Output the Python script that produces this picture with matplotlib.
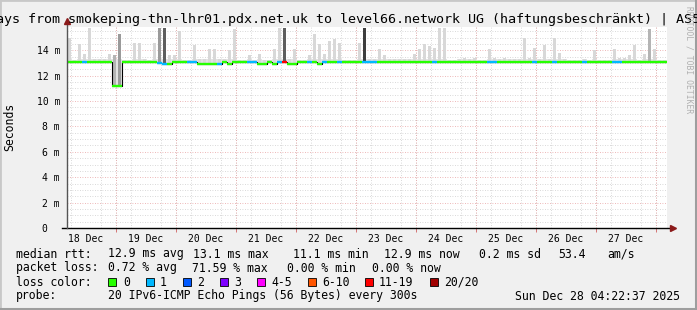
import matplotlib
matplotlib.use("Agg")
import matplotlib.pyplot as plt
import matplotlib.dates as mdates
from matplotlib.patches import Rectangle
from matplotlib.ticker import MultipleLocator
import numpy as np
import pandas as pd

W, H = 697, 310
MONO = "DejaVu Sans Mono"

end_time = pd.Timestamp("2025-12-28 04:22:37")
span_days = 10
bin_hours = 2

# median rtt per 2 hour bin (ms)
median_ms = [
    13.05, 13.05, 13.05, 13.05, 13.05, 13.05, 13.05, 13.05, 13.05, 11.15,
    11.15, 13.05, 13.05, 13.05, 13.05, 13.05, 13.05, 13.05, 13.0, 12.9,
    12.9, 13.05, 13.05, 13.05, 13.05, 13.05, 12.9, 12.9, 12.9, 12.9,
    12.9, 13.05, 12.9, 13.05, 13.05, 13.05, 13.05, 13.05, 12.9, 12.9,
    13.05, 12.9, 13.05, 13.05, 12.9, 12.9, 13.05, 13.05, 13.05, 13.05,
    12.9, 13.05, 13.05, 13.05, 13.05, 13.05, 13.05, 13.05, 13.05, 13.05,
    13.05, 13.05, 13.05, 13.05, 13.05, 13.05, 13.05, 13.05, 13.05, 13.05,
    13.05, 13.05, 13.05, 13.05, 13.05, 13.05, 13.05, 13.05, 13.05, 13.05,
    13.05, 13.05, 13.05, 13.05, 13.05, 13.05, 13.05, 13.05, 13.05, 13.05,
    13.05, 13.05, 13.05, 13.05, 13.05, 13.05, 13.05, 13.05, 13.05, 13.05,
    13.05, 13.05, 13.05, 13.05, 13.05, 13.05, 13.05, 13.05, 13.05, 13.05,
    13.05, 13.05, 13.05, 13.05, 13.05, 13.05, 13.05, 13.05, 13.05, 13.05,
]

# highest ping per bin (ms), top of the smoke
smoke_top_ms = [
    15.0, 13.2, 14.5, 13.7, 15.75, 13.3, 13.3, 13.3, 13.7, 13.6,
    15.3, 13.2, 13.2, 14.55, 14.6, 13.3, 13.2, 14.6, 15.75, 15.75,
    13.6, 13.6, 15.5, 13.2, 13.2, 14.4, 13.3, 13.3, 14.1, 14.1,
    13.3, 13.3, 14.0, 15.7, 13.2, 13.2, 13.6, 13.2, 13.7, 13.2,
    13.2, 14.1, 15.75, 15.75, 13.3, 14.1, 13.2, 13.2, 13.6, 15.3,
    14.5, 13.7, 14.7, 14.85, 14.6, 13.2, 13.2, 13.2, 14.6, 15.75,
    13.3, 13.3, 14.1, 13.6, 13.3, 13.3, 13.3, 13.3, 13.3, 13.7,
    14.1, 14.5, 14.3, 14.2, 15.75, 15.75, 13.2, 13.2, 13.3, 13.35,
    13.3, 13.35, 13.2, 13.2, 14.1, 13.35, 13.3, 13.35, 13.3, 13.3,
    13.3, 15.0, 13.4, 14.2, 13.3, 14.4, 13.3, 15.0, 13.8, 13.3,
    13.25, 13.2, 13.2, 13.3, 13.2, 14.0, 13.2, 13.2, 13.2, 14.1,
    13.4, 13.35, 13.6, 14.4, 13.2, 13.7, 15.7, 14.1, 13.2, 13.2,
]

# smoke density (0 = light ... 4 = darkest)
smoke_shade = [
    0, 0, 0, 0, 0, 0, 0, 0, 0, 1,
    2, 0, 0, 0, 0, 0, 0, 0, 2, 3,
    0, 0, 0, 0, 0, 0, 0, 0, 0, 0,
    0, 0, 0, 0, 0, 0, 0, 0, 0, 0,
    0, 0, 0, 3, 0, 0, 0, 0, 0, 0,
    0, 0, 0, 0, 0, 0, 0, 0, 0, 4,
    0, 0, 0, 0, 0, 0, 0, 0, 0, 0,
    0, 0, 0, 0, 0, 0, 0, 0, 0, 0,
    0, 0, 0, 0, 0, 0, 0, 0, 0, 0,
    0, 0, 0, 0, 0, 0, 0, 0, 0, 0,
    0, 0, 0, 0, 0, 0, 0, 0, 0, 0,
    0, 0, 0, 0, 0, 0, 1, 0, 0, 0,
]

# lost pings (of 20) per bin
loss_count = [
    0, 0, 0, 1, 0, 0, 0, 0, 0, 0,
    0, 0, 0, 0, 0, 0, 0, 0, 1, 1,
    0, 0, 0, 0, 1, 1, 0, 0, 0, 0,
    1, 0, 0, 0, 0, 0, 1, 1, 0, 0,
    0, 0, 1, 14, 0, 0, 0, 0, 1, 0,
    0, 1, 0, 0, 1, 0, 0, 0, 0, 1,
    1, 1, 0, 0, 0, 0, 0, 0, 0, 0,
    0, 0, 0, 1, 0, 0, 0, 0, 0, 0,
    0, 0, 0, 0, 1, 1, 0, 0, 0, 0,
    0, 0, 0, 1, 0, 0, 0, 1, 0, 0,
    0, 0, 0, 1, 0, 0, 0, 0, 0, 1,
    1, 0, 0, 0, 0, 0, 0, 0, 0, 0,
]

day_labels = ["18 Dec", "19 Dec", "20 Dec", "21 Dec", "22 Dec",
              "23 Dec", "24 Dec", "25 Dec", "26 Dec", "27 Dec"]
ytick_vals = [0, 2, 4, 6, 8, 10, 12, 14]
ytick_labels = ["0  ", "2 m", "4 m", "6 m", "8 m", "10 m", "12 m", "14 m"]

loss_names = ["0", "1", "2", "3", "4-5", "6-10", "11-19", "20/20"]
loss_upper = [0, 1, 2, 3, 5, 10, 19, 20]
loss_colors = ["#26ff00", "#00b8ff", "#0059ff", "#7e00ff",
               "#ff00ff", "#ff5500", "#ff0000", "#a10000"]
shade_colors = ["#d8d8d8", "#b4b4b4", "#9a9a9a", "#5e5e5e", "#3e3e3e"]

rtt_texts = ["median rtt:", "12.9 ms avg", "13.1 ms max", "11.1 ms min",
             "12.9 ms now", "0.2 ms sd", "53.4", "am/s"]
loss_texts = ["packet loss:", "0.72 % avg", "71.59 % max", "0.00 % min", "0.00 % now"]
probe_text = "20 IPv6-ICMP Echo Pings (56 Bytes) every 300s"
stamp_text = "Sun Dec 28 04:22:37 2025"
title_text = "ays from smokeping-thn-lhr01.pdx.net.uk to level66.network UG (haftungsbeschränkt) | AS5"


def fx(px):
    return px / W


def fy(py):
    return 1 - py / H


start_time = end_time - pd.Timedelta(days=span_days)
times = start_time + pd.to_timedelta(np.arange(len(median_ms)) * bin_hours, unit="h")
t = mdates.date2num(times.to_pydatetime())
bw = bin_hours / 24.0
med = np.array(median_ms)
top = np.array(smoke_top_ms)

fig = plt.figure(figsize=(W / 100, H / 100), dpi=100, facecolor="#f0f0f0")
ymax = 15.8
ax = fig.add_axes([fx(67), fy(228), 600 / W, (ymax * 12.7) / H])
ax.set_facecolor("white")
ax.set_xlim(mdates.date2num(start_time.to_pydatetime()), mdates.date2num(end_time.to_pydatetime()))
ax.set_ylim(0, ymax)
for s in ax.spines.values():
    s.set_visible(False)

# grid
ax.set_axisbelow(True)
ax.yaxis.set_minor_locator(MultipleLocator(0.5))
ax.xaxis.set_minor_locator(mdates.HourLocator(byhour=[0, 6, 12, 18]))
ax.grid(which="minor", color="#cccccc", lw=0.6, ls=(0, (1, 2)))
ax.grid(which="major", axis="y", color="#e8a0a0", lw=0.6, ls=(0, (1, 2)))
midnights = mdates.date2num(pd.date_range("2025-12-19", "2025-12-28", freq="D").to_pydatetime())
ax.vlines(midnights, 0, ymax, color="#e8a0a0", lw=0.6, ls=(0, (1, 2)), zorder=0.6)
ax.vlines(midnights, -0.3, 0, color="#d06060", lw=0.6, clip_on=False)

# smoke: a thin continuous base band plus narrower spikes
base_top = np.minimum(top, 13.3)
ax.bar(t, base_top - med, bottom=med, width=bw, align="edge", lw=0,
       color="#e2e2e2", zorder=2)
ax.bar(t + bw * 0.5, top - med, bottom=med, width=bw * 0.7, align="center", lw=0,
       color=[shade_colors[s] for s in smoke_shade], zorder=2.1)

# median line, coloured by loss
ax.step(np.append(t, t[-1] + bw), np.append(med, med[-1]), where="post",
        color="black", lw=0.8, zorder=3)
cols = [loss_colors[next(j for j, u in enumerate(loss_upper) if c <= u)] for c in loss_count]
ax.hlines(med, t, t + bw, colors=cols, lw=1.7, zorder=4)

# axes
ax.set_yticks(ytick_vals, ytick_labels, fontsize=7, family=MONO)
noons = mdates.date2num(pd.date_range("2025-12-18 12:00", periods=len(day_labels), freq="D").to_pydatetime())
ax.set_xticks(noons, day_labels, fontsize=7, family=MONO)
ax.tick_params(axis="both", which="both", length=0)
ax.tick_params(axis="y", pad=5)
ax.tick_params(axis="x", pad=4)
ax.plot([-5 / 600, 605 / 600], [0, 0], color="black", lw=1, transform=ax.transAxes, clip_on=False, zorder=5)
ax.plot([0, 0], [0, 1.03], color="#555555", lw=1, transform=ax.transAxes, clip_on=False, zorder=5)
ax.plot([606 / 600], [0], marker=">", ms=4, color="#8b1a1a", transform=ax.transAxes, clip_on=False, zorder=6)
ax.plot([0], [1.03], marker="^", ms=4, color="#8b1a1a", transform=ax.transAxes, clip_on=False, zorder=6)

fig.text(fx(10), fy(127), "Seconds", rotation=90, ha="center", va="center", fontsize=8.3, family=MONO)
fig.text(fx(-4), fy(19), title_text, ha="left", va="center", fontsize=9.6, family=MONO)
fig.text(fx(689), fy(60), "RRDTOOL / TOBI OETIKER", rotation=270, ha="center", va="center",
         fontsize=5.8, family=MONO, color="#b0b0b0")

# legend rows
for txt, x in zip(rtt_texts, [16, 108, 193, 293, 384, 479, 558, 607]):
    fig.text(fx(x), fy(254), txt, ha="left", va="center", fontsize=8.3, family=MONO)
for txt, x in zip(loss_texts, [16, 108, 192, 287, 372]):
    fig.text(fx(x), fy(268), txt, ha="left", va="center", fontsize=8.3, family=MONO)
fig.text(fx(16), fy(282), "loss color:", ha="left", va="center", fontsize=8.3, family=MONO)
for name, col, bx, tx in zip(loss_names, loss_colors,
                             [108, 146, 183, 220, 257, 308, 365, 430],
                             [123.5, 160, 197, 234, 271, 322, 379, 444]):
    fig.add_artist(Rectangle((fx(bx), fy(286)), 8 / W, 8 / H, transform=fig.transFigure,
                             facecolor=col, edgecolor="black", lw=0.6))
    fig.text(fx(tx), fy(282), name, ha="left", va="center", fontsize=8.3, family=MONO)
fig.text(fx(16), fy(296), "probe:", ha="left", va="center", fontsize=8.3, family=MONO)
fig.text(fx(108), fy(296), probe_text, ha="left", va="center", fontsize=8.3, family=MONO)
fig.text(fx(680), fy(296), stamp_text, ha="right", va="center", fontsize=8.3, family=MONO)

# frame
fig.add_artist(Rectangle((0, 0), 1, 1, transform=fig.transFigure, fill=False,
                         edgecolor="#c8c8c8", lw=2))
fig.add_artist(plt.Line2D([fx(695.5), fx(695.5)], [0, 1], transform=fig.transFigure, color="#9e9e9e", lw=2.2))
fig.add_artist(plt.Line2D([0, 1], [fy(308.5), fy(308.5)], transform=fig.transFigure, color="#9e9e9e", lw=2.2))

fig.savefig("out.png", dpi=100, facecolor=fig.get_facecolor())
